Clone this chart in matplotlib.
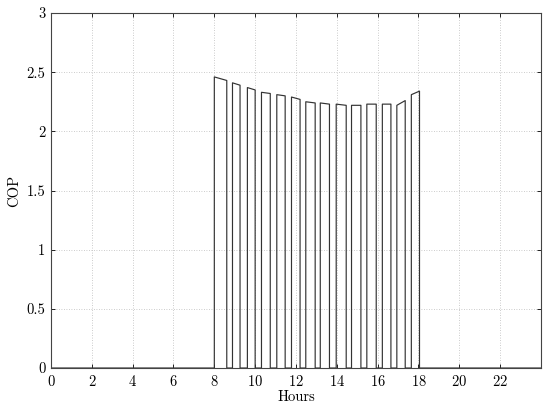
import matplotlib
matplotlib.use("Agg")
import matplotlib.pyplot as plt
import numpy as np

plt.rcParams['font.family'] = 'serif'
plt.rcParams['font.serif'] = ['cmr10', 'DejaVu Serif']
plt.rcParams['mathtext.fontset'] = 'cm'
plt.rcParams['axes.formatter.use_mathtext'] = True

# Pulse data (hours, COP)
on_start = [8.00, 8.89, 9.62, 10.31, 11.06, 11.78, 12.48, 13.19, 13.97, 14.72, 15.47, 16.23, 16.94, 17.65]
on_end   = [8.61, 9.26, 10.00, 10.74, 11.47, 12.20, 12.94, 13.64, 14.46, 15.18, 15.93, 16.65, 17.35, 18.05]
cop_start = [2.46, 2.41, 2.37, 2.33, 2.31, 2.29, 2.25, 2.24, 2.23, 2.22, 2.23, 2.23, 2.22, 2.31]
cop_end   = [2.43, 2.39, 2.35, 2.32, 2.30, 2.27, 2.24, 2.23, 2.22, 2.22, 2.23, 2.23, 2.26, 2.34]
x_ticks = [0, 2, 4, 6, 8, 10, 12, 14, 16, 18, 20, 22]
y_ticks = [0, 0.5, 1, 1.5, 2, 2.5, 3]
y_tick_labels = ['0', '0.5', '1', '1.5', '2', '2.5', '3']

xs = [0.0]
ys = [0.0]
for s, e, cs, ce in zip(on_start, on_end, cop_start, cop_end):
    xs += [s, s, e, e]
    ys += [0.0, cs, ce, 0.0]
xs.append(24.0)
ys.append(0.0)

fig = plt.figure(figsize=(5.5, 4.03), dpi=100)
ax = fig.add_axes([0.0927, 0.0868, 0.8909, 0.8809])
ax.plot(xs, ys, color='#333333', lw=0.85)
ax.set_xlim(0, 24)
ax.set_ylim(0, 3)
ax.set_xticks(x_ticks)
ax.set_yticks(y_ticks)
ax.set_yticklabels(y_tick_labels)
ax.grid(True, color='#bbbbbb', linestyle=(0, (1, 2)), lw=0.6)
ax.tick_params(direction='in', length=3, width=0.6, top=True, right=True, labelsize=10.5, pad=4)
for sp in ax.spines.values():
    sp.set_linewidth(0.8)
    sp.set_color('#444444')
ax.set_xlabel('Hours', fontsize=10.5, labelpad=1)
ax.set_ylabel('COP', fontsize=10.5, labelpad=4)
fig.savefig('out.png', dpi=100)
